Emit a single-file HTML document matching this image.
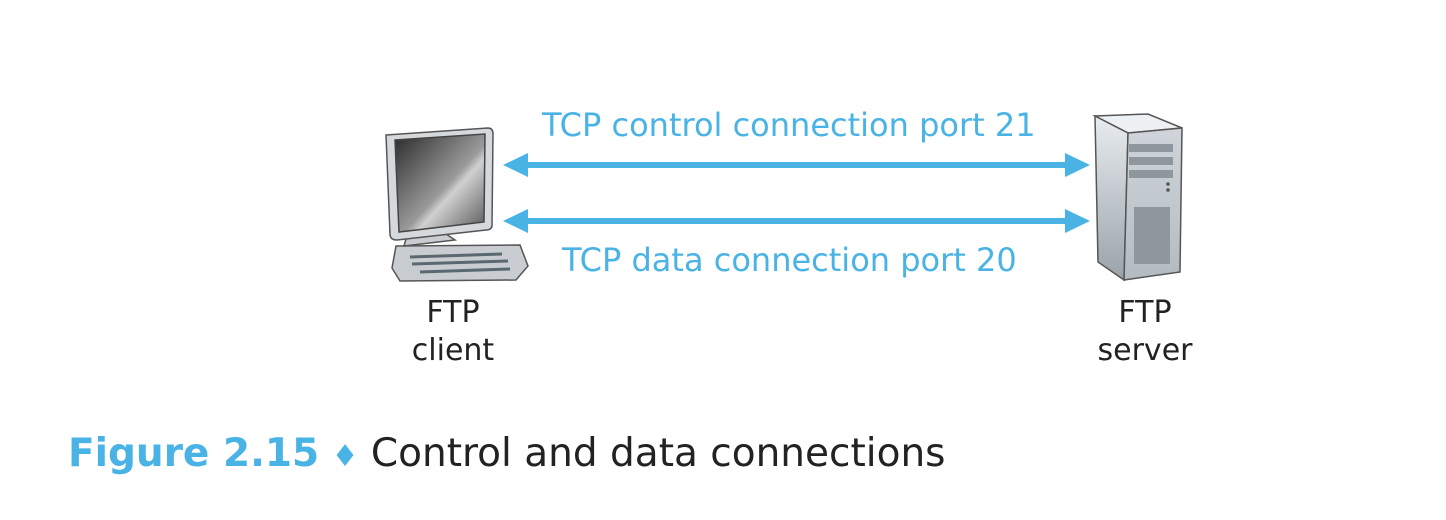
<!DOCTYPE html>
<html><head><style>
body{margin:0;width:1446px;height:520px;background:#fff;overflow:hidden;position:relative;font-family:"DejaVu Sans","Liberation Sans",sans-serif}
.t{position:absolute;white-space:nowrap}
</style></head><body>
<svg width="1446" height="520" style="position:absolute;left:0;top:0">
<defs>
<linearGradient id="scr" x1="0" y1="0" x2="1" y2="1"><stop offset="0" stop-color="#2a2a2a"/><stop offset="0.55" stop-color="#9a9a9a"/><stop offset="0.62" stop-color="#d0d0d0"/><stop offset="1" stop-color="#555"/></linearGradient>
<linearGradient id="side" x1="0" y1="0" x2="0" y2="1"><stop offset="0" stop-color="#e8ecef"/><stop offset="1" stop-color="#9aa3aa"/></linearGradient>
<linearGradient id="front" x1="0" y1="0" x2="0" y2="1"><stop offset="0" stop-color="#cfd5da"/><stop offset="1" stop-color="#b3bbc1"/></linearGradient>
</defs>
<g fill="#4ab3e6" stroke="none">
<rect x="525" y="162" width="545" height="6"/>
<polygon points="503,165 528,153 528,177"/>
<polygon points="1090,165 1065,153 1065,177"/>
<rect x="525" y="218" width="545" height="6"/>
<polygon points="503,221 528,209 528,233"/>
<polygon points="1090,221 1065,209 1065,233"/>
</g>
<g stroke="#555" stroke-width="1.5">
<path d="M396,246 L520,245 L528,266 L516,280 L400,281 L392,268 Z" fill="#c9cdd1"/>
<path d="M408,232 L440,230 L455,240 L404,246 Z" fill="#c9cdd1"/>
<path d="M386,135 L488,128 Q493,128 493,134 L492,225 Q492,230 486,230 L397,240 Q390,240 390,234 Z" fill="#d6d9dc"/>
<path d="M395,140 L485,134 L484,222 L399,232 Z" fill="url(#scr)" stroke="#444"/>
</g>
<g stroke="#5a6870" stroke-width="3">
<line x1="410" y1="257" x2="502" y2="254"/>
<line x1="412" y1="264" x2="508" y2="261"/>
<line x1="420" y1="272" x2="510" y2="269"/>
</g>
<g stroke="#555" stroke-width="1.5">
<polygon points="1095,116 1148,114 1182,128 1128,133" fill="#eef1f3"/>
<polygon points="1095,116 1128,133 1124,280 1098,262" fill="url(#side)"/>
<polygon points="1128,133 1182,128 1180,272 1124,280" fill="url(#front)"/>
</g>
<g fill="#8e979d">
<rect x="1129" y="144" width="44" height="8"/>
<rect x="1129" y="157" width="44" height="8"/>
<rect x="1129" y="170" width="44" height="8"/>
<rect x="1134" y="207" width="36" height="57"/>
<circle cx="1168" cy="184" r="1.8" fill="#555"/>
<circle cx="1168" cy="190" r="1.8" fill="#555"/>
</g>
</svg>
<div class="t" style="left:542px;top:106px;font-size:32px;color:#4ab3e6">TCP control connection port 21</div>
<div class="t" style="left:562px;top:241px;font-size:32px;color:#4ab3e6">TCP data connection port 20</div>
<div class="t" style="left:393px;top:294px;width:120px;text-align:center;font-size:30px;line-height:38px;color:#222">FTP<br>client</div>
<div class="t" style="left:1080px;top:294px;width:130px;text-align:center;font-size:30px;line-height:38px;color:#222">FTP<br>server</div>
<div class="t" style="left:68px;top:431px;font-size:39px;color:#222"><b style="color:#4ab3e6">Figure 2.15</b> <span style="color:#4ab3e6;font-size:30px">♦</span> Control and data connections</div>
</body></html>
